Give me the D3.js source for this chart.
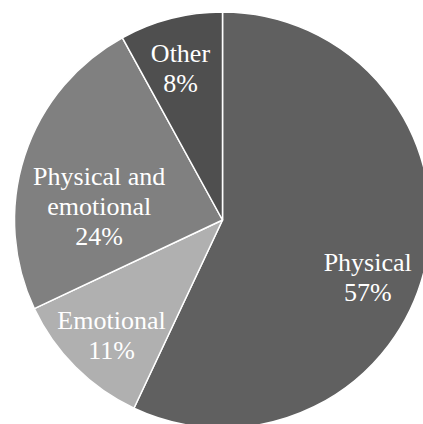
<!DOCTYPE html>
<html>
<head>
<meta charset="utf-8">
<script src="https://cdn.jsdelivr.net/npm/d3@7"></script>
<style>
  html, body { margin: 0; padding: 0; background: #fff; }
  svg { display: block; }
</style>
</head>
<body>
<svg id="chart" width="423" height="424"></svg>
<script>
// Shares of reported abuse type (percent)
const categories = ["Physical", "Emotional", "Physical and emotional", "Other"];
const values = [57, 11, 24, 8];
const labelLines = [["Physical"], ["Emotional"], ["Physical and", "emotional"], ["Other"]];
const colors = ["#606060", "#b0b0b0", "#808080", "#4f4f4f"];

// Small shifts that keep the wider labels inside their slices
const labelNudge = [[-8, 23], [0, 4], [26, 35], [-3, 1]];

const width = 423, height = 424;
const cx = 222.5, cy = 220, radius = 208;
const labelRadius = 157;
const lineHeight = 30;

const svg = d3.select("#chart");
const g = svg.append("g").attr("transform", `translate(${cx},${cy})`);

const pie = d3.pie().sort(null).value(d => d.value);
const data = pie(categories.map((c, i) => ({ name: c, value: values[i], i })));

const arc = d3.arc().innerRadius(0).outerRadius(radius);
const labelArc = d3.arc().innerRadius(labelRadius).outerRadius(labelRadius);

g.selectAll("path.slice")
  .data(data)
  .join("path")
  .attr("class", "slice")
  .attr("d", arc)
  .attr("fill", d => colors[d.data.i])
  .attr("stroke", "#ffffff")
  .attr("stroke-width", 1.5)
  .attr("stroke-linejoin", "round");

const labels = g.selectAll("text.label")
  .data(data)
  .join("text")
  .attr("class", "label")
  .attr("text-anchor", "middle")
  .attr("fill", "#ffffff")
  .style("font-family", "'Liberation Serif', 'Times New Roman', serif")
  .style("font-size", "26px");

labels.each(function(d) {
  const [x0, y0] = labelArc.centroid(d);
  const [nx, ny] = labelNudge[d.data.i];
  const x = x0 + nx, y = y0 + ny;
  const lines = labelLines[d.data.i].concat([d.data.value + "%"]);
  const first = y - (lines.length - 1) * lineHeight / 2 + 8.5;
  const t = d3.select(this);
  lines.forEach((ln, k) => {
    t.append("tspan")
      .attr("x", x)
      .attr("y", first + k * lineHeight)
      .text(ln);
  });
});
</script>
</body>
</html>
